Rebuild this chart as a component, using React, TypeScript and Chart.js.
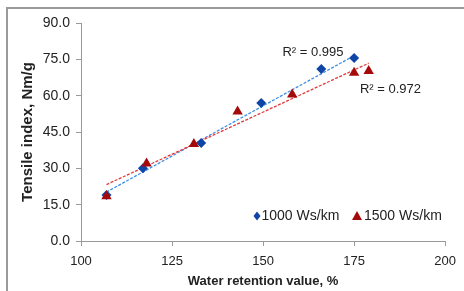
import React, { useEffect, useRef } from "react";
import { Chart, registerables } from "chart.js";

Chart.register(...registerables);

// Data
const wrv1000 = [107, 117, 133, 149.5, 166, 175];
const tensile1000 = [19, 30, 40.5, 57, 71, 75.6];
const wrv1500 = [107, 118, 131, 143, 158, 175, 179];
const tensile1500 = [18.5, 32, 40, 53.5, 60.5, 69.5, 70.2];
const trendX1000 = [107, 175];
const trendY1000 = [20.2, 76.5];
const trendX1500 = [107, 179];
const trendY1500 = [23.3, 73.4];
const seriesLabels = ["1000 Ws/km", "1500 Ws/km"];
const r2Labels = ["R² = 0.995", "R² = 0.972"];
const xTitle = "Water retention value, %";
const yTitle = "Tensile index, Nm/g";

const FONT = "'Liberation Sans', Arial, sans-serif";
const BLUE_MARK = "#0f45a6";
const RED_MARK = "#a50a0a";
const BLUE_LINE = "#3d8fe8";
const RED_LINE = "#e33b3b";
const AXIS = "#9a9a9a";
const TEXT = "#222222";

const pts = (xs: number[], ys: number[]) => xs.map((x, i) => ({ x, y: ys[i] }));

const overlayPlugin = {
  id: "overlay",
  afterDraw(chart: any) {
    const { ctx, chartArea, scales } = chart;
    const xs = scales.x;
    const ys = scales.y;
    ctx.save();
    ctx.fillStyle = TEXT;
    ctx.textBaseline = "middle";
    ctx.textAlign = "left";
    ctx.font = `13px ${FONT}`;
    // R² labels
    ctx.fillText(r2Labels[0], xs.getPixelForValue(155.3), ys.getPixelForValue(77.7));
    ctx.fillText(r2Labels[1], xs.getPixelForValue(176.6), ys.getPixelForValue(62.4));

    // legend
    const ly = chartArea.bottom - 25;
    const lx1 = chartArea.left + 176;
    const lx2 = chartArea.left + 276;
    ctx.fillStyle = BLUE_MARK;
    ctx.beginPath();
    ctx.moveTo(lx1, ly - 4.5);
    ctx.lineTo(lx1 + 3.5, ly);
    ctx.lineTo(lx1, ly + 4.5);
    ctx.lineTo(lx1 - 3.5, ly);
    ctx.closePath();
    ctx.fill();
    ctx.fillStyle = RED_MARK;
    ctx.beginPath();
    ctx.moveTo(lx2, ly - 5);
    ctx.lineTo(lx2 + 5, ly + 4);
    ctx.lineTo(lx2 - 5, ly + 4);
    ctx.closePath();
    ctx.fill();
    ctx.fillStyle = TEXT;
    ctx.font = `14px ${FONT}`;
    ctx.fillText(seriesLabels[0], lx1 + 4.5, ly);
    ctx.fillText(seriesLabels[1], lx2 + 7, ly);
    ctx.restore();
  },
};

export default function App() {
  const ref = useRef<HTMLCanvasElement>(null);

  useEffect(() => {
    if (!ref.current) return;
    const chart = new Chart(ref.current, {
      type: "scatter",
      data: {
        datasets: [
          {
            label: seriesLabels[1],
            data: pts(wrv1500, tensile1500),
            pointStyle: "triangle",
            pointRadius: 6,
            backgroundColor: RED_MARK,
            borderColor: RED_MARK,
            borderWidth: 0,
            order: 0,
          },
          {
            label: seriesLabels[0],
            data: pts(wrv1000, tensile1000),
            pointStyle: "rectRot",
            pointRadius: 5,
            backgroundColor: BLUE_MARK,
            borderColor: BLUE_MARK,
            borderWidth: 0,
            order: 1,
          },
          {
            label: "trend 1500",
            data: pts(trendX1500, trendY1500),
            showLine: true,
            pointRadius: 0,
            borderColor: RED_LINE,
            borderWidth: 1.3,
            borderDash: [3, 1.5],
            order: 2,
          },
          {
            label: "trend 1000",
            data: pts(trendX1000, trendY1000),
            showLine: true,
            pointRadius: 0,
            borderColor: BLUE_LINE,
            borderWidth: 1.3,
            borderDash: [3, 1.5],
            order: 3,
          },
        ],
      },
      options: {
        responsive: false,
        animation: false,
        devicePixelRatio: 1,
        layout: { padding: { left: 0, top: 23, right: 16, bottom: 0 } },
        plugins: {
          legend: { display: false },
          tooltip: { enabled: false },
        },
        scales: {
          x: {
            type: "linear",
            min: 100,
            max: 200,
            afterFit: (s: any) => {
              s.height = 50;
            },
            afterBuildTicks: (s: any) => {
              s.ticks = [100, 125, 150, 175, 200].map((v) => ({ value: v }));
            },
            ticks: {
              color: TEXT,
              font: { family: FONT, size: 13 },
              padding: 8,
              maxRotation: 0,
              callback: (v: any) => String(v),
            },
            grid: {
              drawOnChartArea: false,
              drawTicks: true,
              tickLength: 5,
              color: AXIS,
            },
            border: { color: AXIS, width: 1 },
            title: {
              display: true,
              text: xTitle,
              color: TEXT,
              font: { family: FONT, size: 13, weight: "bold" },
              padding: { top: 0, bottom: 2 },
            },
          },
          y: {
            type: "linear",
            min: 0,
            max: 90,
            afterFit: (s: any) => {
              s.width = 81;
            },
            afterBuildTicks: (s: any) => {
              s.ticks = [0, 15, 30, 45, 60, 75, 90].map((v) => ({ value: v }));
            },
            ticks: {
              color: TEXT,
              font: { family: FONT, size: 14 },
              padding: 6,
              callback: (v: any) => Number(v).toFixed(1),
            },
            grid: {
              drawOnChartArea: false,
              drawTicks: true,
              tickLength: 5,
              color: AXIS,
            },
            border: { color: AXIS, width: 1 },
            title: {
              display: true,
              text: yTitle,
              color: TEXT,
              font: { family: FONT, size: 15, weight: "bold" },
              padding: { top: 19, bottom: 0 },
            },
          },
        },
      },
      plugins: [overlayPlugin],
    } as any);
    return () => chart.destroy();
  }, []);

  return (
    <div
      style={{
        position: "absolute",
        left: 0,
        top: 0,
        width: 464,
        height: 291,
        background: "#fff",
        overflow: "hidden",
      }}
    >
      <div
        style={{
          position: "absolute",
          left: 6,
          top: 7,
          width: 480,
          height: 300,
          borderLeft: "2px solid #9a9a9a",
          borderTop: "2px solid #9a9a9a",
        }}
      />
      <canvas
        ref={ref}
        width={464}
        height={291}
        style={{ position: "absolute", left: 0, top: 0, width: 464, height: 291 }}
      />
    </div>
  );
}
